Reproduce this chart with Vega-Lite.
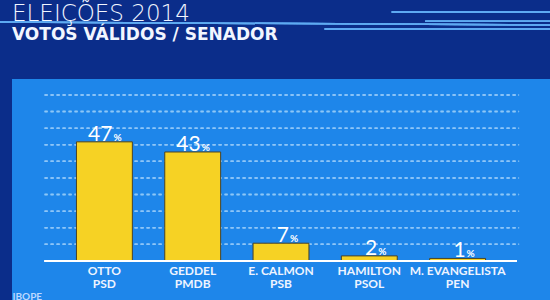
{
  "$schema": "https://vega.github.io/schema/vega-lite/v6.json",
  "autosize": {"type": "none"},
  "width": 538,
  "height": 221,
  "padding": {"left": 12, "top": 79, "right": 0, "bottom": 0},
  "background": "#0b2d8a",
  "view": {"fill": "#1e86ea", "stroke": null},
  "title": {
    "text": "ELEIÇÕES 2014",
    "subtitle": "VOTOS VÁLIDOS / SENADOR",
    "anchor": "start",
    "frame": "group",
    "offset": -32,
    "font": "DejaVu Sans",
    "fontSize": 23,
    "fontWeight": 200,
    "color": "#f2f6ff",
    "subtitleFont": "DejaVu Sans",
    "subtitleFontSize": 17,
    "subtitleFontWeight": "bold",
    "subtitleColor": "#f2f6ff",
    "subtitlePadding": 1
  },
  "data": {
    "values": [
      {"candidato": "OTTO|PSD", "votos": 47},
      {"candidato": "GEDDEL|PMDB", "votos": 43},
      {"candidato": "E. CALMON|PSB", "votos": 7},
      {"candidato": "HAMILTON|PSOL", "votos": 2},
      {"candidato": "M. EVANGELISTA|PEN", "votos": 1}
    ]
  },
  "encoding": {
    "x": {
      "field": "candidato",
      "type": "nominal",
      "sort": null,
      "scale": {"domain": ["OTTO|PSD", "GEDDEL|PMDB", "E. CALMON|PSB", "HAMILTON|PSOL", "M. EVANGELISTA|PEN"], "paddingInner": 0.367, "paddingOuter": 0.73},
      "axis": {
        "orient": "bottom",
        "offset": -39,
        "title": "IBOPE",
        "titleAnchor": "start",
        "titleFont": "Lato",
        "titleFontSize": 10,
        "titleFontWeight": "bold",
        "titleColor": "#bcd8ff",
        "titlePadding": 2,
        "domain": false,
        "ticks": false,
        "labelAngle": 0,
        "labelPadding": 4,
        "labelFont": "Lato",
        "labelFontSize": 12,
        "labelFontWeight": "bold",
        "labelColor": "#eef4ff",
        "labelLineHeight": 13,
        "labelExpr": "split(datum.label, '|')"
      }
    },
    "y": {
      "type": "quantitative",
      "scale": {"domain": [-15.4, 71.8], "nice": false, "zero": false},
      "axis": null
    }
  },
  "layer": [
    {"mark": {"type": "rule", "color": "#8ec6f8", "opacity": 0.6, "strokeWidth": 1.5, "strokeDash": [3, 3]}, "encoding": {"x": {"datum": "OTTO|PSD", "bandPosition": -0.57}, "x2": {"datum": "M. EVANGELISTA|PEN", "bandPosition": 1.6}, "y": {"datum": 6.55}}},
    {"mark": {"type": "rule", "color": "#8ec6f8", "opacity": 0.6, "strokeWidth": 1.5, "strokeDash": [3, 3]}, "encoding": {"x": {"datum": "OTTO|PSD", "bandPosition": -0.57}, "x2": {"datum": "M. EVANGELISTA|PEN", "bandPosition": 1.6}, "y": {"datum": 13.1}}},
    {"mark": {"type": "rule", "color": "#8ec6f8", "opacity": 0.6, "strokeWidth": 1.5, "strokeDash": [3, 3]}, "encoding": {"x": {"datum": "OTTO|PSD", "bandPosition": -0.57}, "x2": {"datum": "M. EVANGELISTA|PEN", "bandPosition": 1.6}, "y": {"datum": 19.65}}},
    {"mark": {"type": "rule", "color": "#8ec6f8", "opacity": 0.6, "strokeWidth": 1.5, "strokeDash": [3, 3]}, "encoding": {"x": {"datum": "OTTO|PSD", "bandPosition": -0.57}, "x2": {"datum": "M. EVANGELISTA|PEN", "bandPosition": 1.6}, "y": {"datum": 26.2}}},
    {"mark": {"type": "rule", "color": "#8ec6f8", "opacity": 0.6, "strokeWidth": 1.5, "strokeDash": [3, 3]}, "encoding": {"x": {"datum": "OTTO|PSD", "bandPosition": -0.57}, "x2": {"datum": "M. EVANGELISTA|PEN", "bandPosition": 1.6}, "y": {"datum": 32.75}}},
    {"mark": {"type": "rule", "color": "#8ec6f8", "opacity": 0.6, "strokeWidth": 1.5, "strokeDash": [3, 3]}, "encoding": {"x": {"datum": "OTTO|PSD", "bandPosition": -0.57}, "x2": {"datum": "M. EVANGELISTA|PEN", "bandPosition": 1.6}, "y": {"datum": 39.3}}},
    {"mark": {"type": "rule", "color": "#8ec6f8", "opacity": 0.6, "strokeWidth": 1.5, "strokeDash": [3, 3]}, "encoding": {"x": {"datum": "OTTO|PSD", "bandPosition": -0.57}, "x2": {"datum": "M. EVANGELISTA|PEN", "bandPosition": 1.6}, "y": {"datum": 45.85}}},
    {"mark": {"type": "rule", "color": "#8ec6f8", "opacity": 0.6, "strokeWidth": 1.5, "strokeDash": [3, 3]}, "encoding": {"x": {"datum": "OTTO|PSD", "bandPosition": -0.57}, "x2": {"datum": "M. EVANGELISTA|PEN", "bandPosition": 1.6}, "y": {"datum": 52.4}}},
    {"mark": {"type": "rule", "color": "#8ec6f8", "opacity": 0.6, "strokeWidth": 1.5, "strokeDash": [3, 3]}, "encoding": {"x": {"datum": "OTTO|PSD", "bandPosition": -0.57}, "x2": {"datum": "M. EVANGELISTA|PEN", "bandPosition": 1.6}, "y": {"datum": 58.95}}},
    {"mark": {"type": "rule", "color": "#8ec6f8", "opacity": 0.6, "strokeWidth": 1.5, "strokeDash": [3, 3]}, "encoding": {"x": {"datum": "OTTO|PSD", "bandPosition": -0.57}, "x2": {"datum": "M. EVANGELISTA|PEN", "bandPosition": 1.6}, "y": {"datum": 65.5}}},
    {"mark": {"type": "rule", "color": "#5eaaf2", "opacity": 0.85, "strokeWidth": 1.5}, "encoding": {"x": {"datum": "OTTO|PSD", "bandPosition": -1.37}, "x2": {"datum": "M. EVANGELISTA|PEN", "bandPosition": 2.2}, "y": {"datum": 94.3}, "y2": {"datum": 93.1}}},
    {"mark": {"type": "rule", "color": "#5eaaf2", "opacity": 0.85, "strokeWidth": 1.5}, "encoding": {"x": {"datum": "HAMILTON|PSOL", "bandPosition": -0.3}, "x2": {"datum": "M. EVANGELISTA|PEN", "bandPosition": 2.2}, "y": {"datum": 91.5}}},
    {"mark": {"type": "rule", "color": "#5eaaf2", "opacity": 0.85, "strokeWidth": 1.5}, "encoding": {"x": {"datum": "HAMILTON|PSOL", "bandPosition": 1.5}, "x2": {"datum": "M. EVANGELISTA|PEN", "bandPosition": 2.2}, "y": {"datum": 94.6}}},
    {"mark": {"type": "rule", "color": "#5eaaf2", "opacity": 0.85, "strokeWidth": 1.5}, "encoding": {"x": {"datum": "HAMILTON|PSOL", "bandPosition": 0.9}, "x2": {"datum": "M. EVANGELISTA|PEN", "bandPosition": 2.2}, "y": {"datum": 98.2}}},
    {
      "mark": {"type": "bar", "color": "#f6d224", "stroke": "#4a4326", "strokeWidth": 1},
      "encoding": {
        "y": {"field": "votos", "type": "quantitative"},
        "y2": {"datum": 0}
      }
    },
    {
      "mark": {"type": "rule", "color": "#ffffff", "strokeWidth": 2},
      "encoding": {
        "x": {"datum": "OTTO|PSD", "bandPosition": -0.57},
        "x2": {"datum": "M. EVANGELISTA|PEN", "bandPosition": 1.56},
        "y": {"datum": 0}
      }
    },
    {
      "mark": {"type": "text", "align": "right", "baseline": "alphabetic", "dx": 8, "dy": -1, "font": "Lato", "fontSize": 21, "color": "#ffffff"},
      "encoding": {
        "y": {"field": "votos", "type": "quantitative"},
        "text": {"field": "votos", "type": "quantitative"}
      }
    },
    {
      "mark": {"type": "text", "align": "left", "baseline": "alphabetic", "dx": 9, "dy": -1, "font": "Lato", "fontSize": 10, "fontWeight": "bold", "color": "#ffffff"},
      "encoding": {
        "y": {"field": "votos", "type": "quantitative"},
        "text": {"value": "%"}
      }
    }
  ]
}
